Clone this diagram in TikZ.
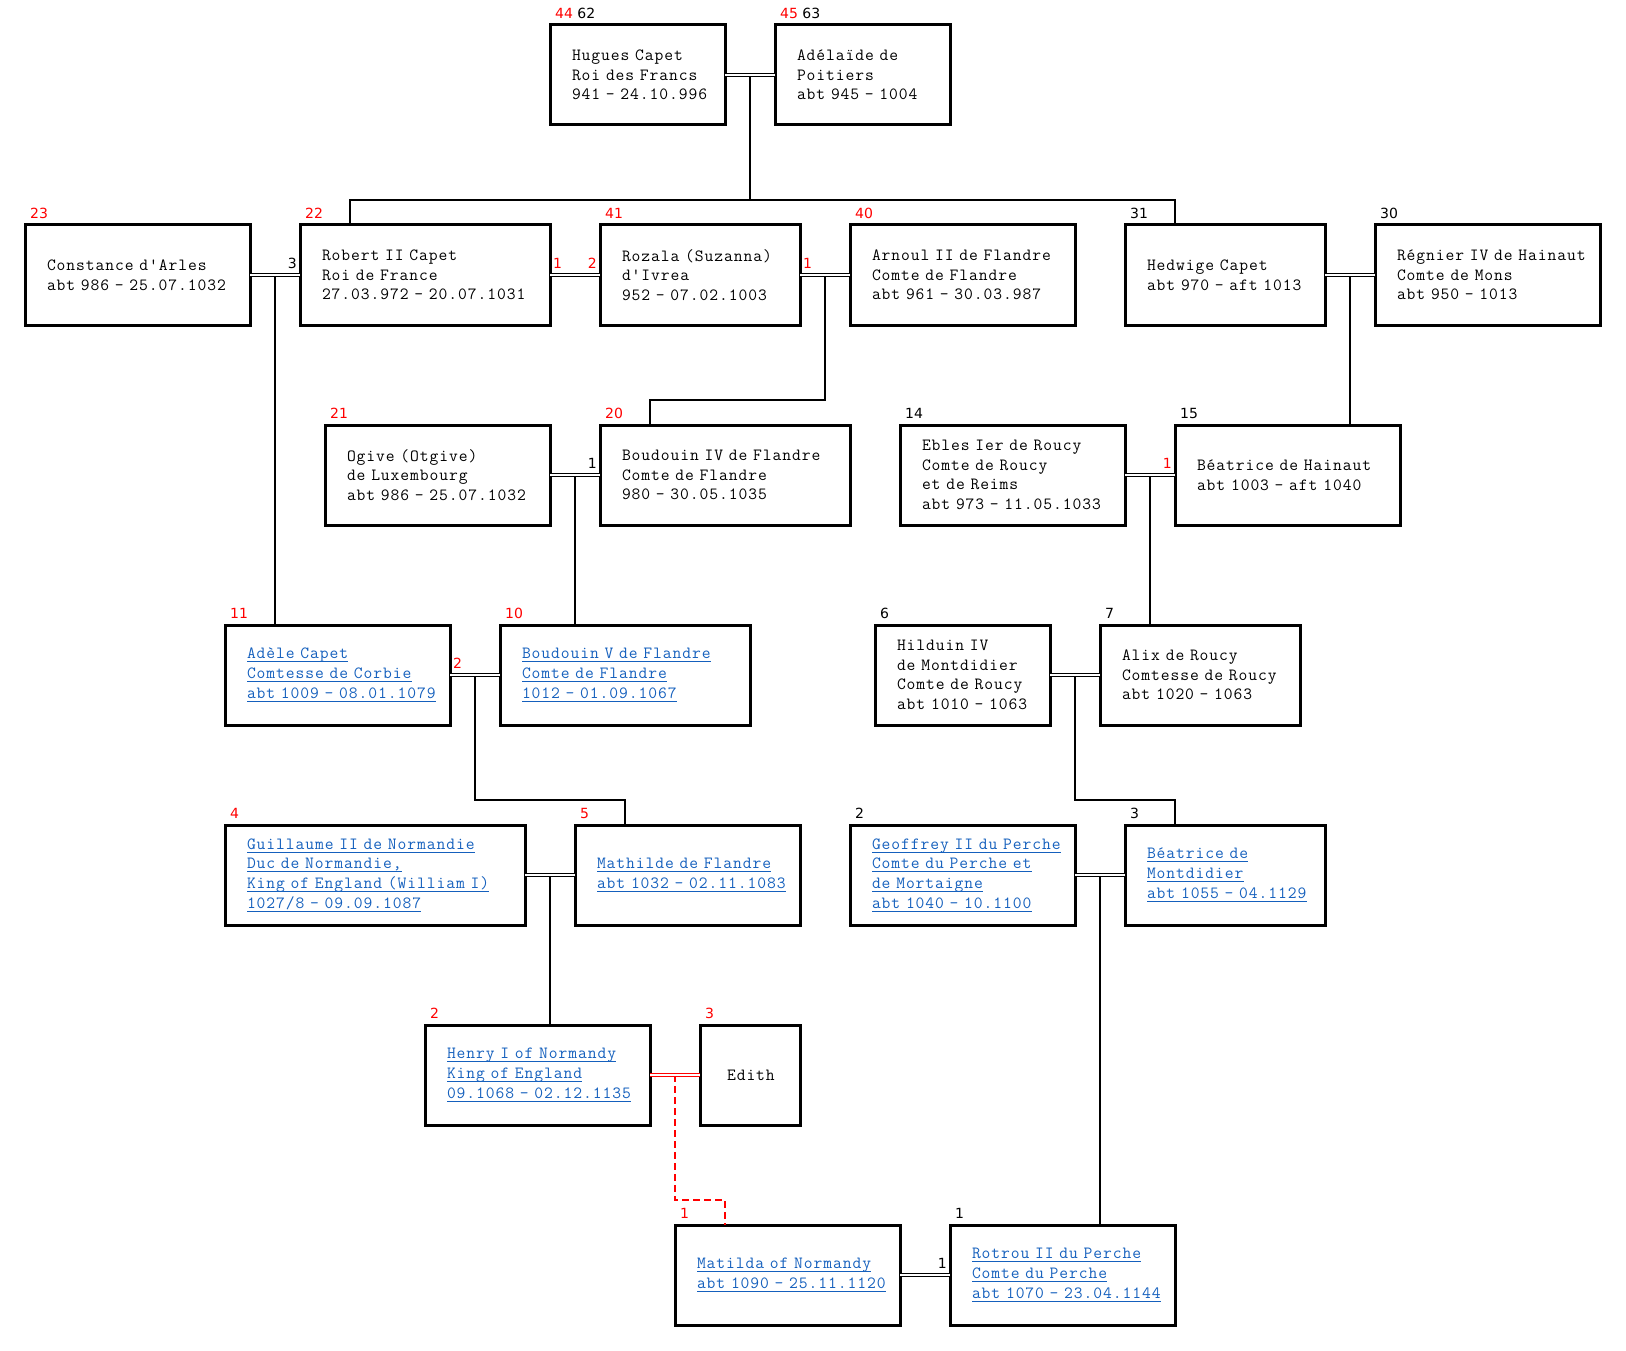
\documentclass[tikz,border=0pt]{standalone}
\usepackage{fontspec}
\usepackage{xcolor}
\usepackage{tikz}
\usetikzlibrary{positioning,calc}
\newfontfamily\tagfont{DejaVu Sans}
\newfontfamily\boxfont[LetterSpace=5.5]{Latin Modern Mono}
\definecolor{linkblue}{HTML}{1560BD}
\newcommand\lnk[1]{\leavevmode\setbox0=\hbox{#1}\rlap{\rule[-3.5pt]{\wd0}{1pt}}\box0}
\tikzset{
  person/.style={draw, line width=3pt, outer sep=0pt, minimum height=100pt, inner xsep=0pt, inner ysep=2pt, text width=#1pt, align=left, font=\boxfont\fontsize{17.1pt}{19.7pt}\selectfont, execute at begin node={\leftskip=22pt}},
  link/.style={text=linkblue},
  num/.style={font=\tagfont\fontsize{14pt}{16pt}\selectfont, inner sep=0pt},
  wed/.style={double, double distance=1.6pt, line width=1pt},
  kin/.style={line width=2pt},
  lost/.style={line width=2pt, red, dash pattern=on 7pt off 4pt}
}

\begin{document}
\begin{tikzpicture}[x=1pt, y=1pt, node distance=100pt and 50pt]
  \useasboundingbox (0,0) rectangle (1626,-1351);

  \node[person=175, anchor=north west] (hugues) at (550,-25) {Hugues Capet\\Roi des Francs\\941 - 24.10.996};
  \node[person=175, right=of hugues] (adelaide) {Adélaïde de\\Poitiers\\abt 945 - 1004};

  \node[person=225, anchor=north west] (constance) at (25,-225) {Constance d'Arles\\abt 986 - 25.07.1032};
  \node[person=250, right=of constance] (robert) {Robert II Capet\\Roi de France\\27.03.972 - 20.07.1031};
  \node[person=200, right=of robert] (rozala) {Rozala (Suzanna)\\d'Ivrea\\952 - 07.02.1003};
  \node[person=225, right=of rozala] (arnoul) {Arnoul II de Flandre\\Comte de Flandre\\abt 961 - 30.03.987};
  \node[person=200, right=of arnoul] (hedwige) {Hedwige Capet\\abt 970 - aft 1013};
  \node[person=225, right=of hedwige] (regnier) {Régnier IV de Hainaut\\Comte de Mons\\abt 950 - 1013};

  \node[person=225, anchor=north west] (ogive) at (325,-425) {Ogive (Otgive)\\de Luxembourg\\abt 986 - 25.07.1032};
  \node[person=250, right=of ogive] (boudfour) {Boudouin IV de Flandre\\Comte de Flandre\\980 - 30.05.1035};
  \node[person=225, right=of boudfour] (ebles) {Ebles Ier de Roucy\\Comte de Roucy\\et de Reims\\abt 973 - 11.05.1033};
  \node[person=225, right=of ebles] (beahain) {Béatrice de Hainaut\\abt 1003 - aft 1040};

  \node[person=225, link, anchor=north west] (adele) at (225,-625) {\lnk{Adèle Capet}\\\lnk{Comtesse de Corbie}\\\lnk{abt 1009 - 08.01.1079}};
  \node[person=250, link, right=of adele] (boudfive) {\lnk{Boudouin V de Flandre}\\\lnk{Comte de Flandre}\\\lnk{1012 - 01.09.1067}};
  \node[person=175, right=125pt of boudfive] (hilduin) {Hilduin IV\\de Montdidier\\Comte de Roucy\\abt 1010 - 1063};
  \node[person=200, right=of hilduin] (alix) {Alix de Roucy\\Comtesse de Roucy\\abt 1020 - 1063};

  \node[person=300, link, anchor=north west] (guillaume) at (225,-825) {\lnk{Guillaume II de Normandie}\\\lnk{Duc de Normandie,}\\\lnk{King of England (William I)}\\\lnk{1027/8 - 09.09.1087}};
  \node[person=225, link, right=of guillaume] (mathilde) {\lnk{Mathilde de Flandre}\\\lnk{abt 1032 - 02.11.1083}};
  \node[person=225, link, right=of mathilde] (geoffrey) {\lnk{Geoffrey II du Perche}\\\lnk{Comte du Perche et}\\\lnk{de Mortaigne}\\\lnk{abt 1040 - 10.1100}};
  \node[person=200, link, right=of geoffrey] (beamont) {\lnk{Béatrice de}\\\lnk{Montdidier}\\\lnk{abt 1055 - 04.1129}};

  \node[person=225, link, anchor=north west] (henry) at (425,-1025) {\lnk{Henry I of Normandy}\\\lnk{King of England}\\\lnk{09.1068 - 02.12.1135}};
  \node[person=100, right=of henry, execute at begin node={\leftskip=27pt}] (edith) {Edith};

  \node[person=225, link, anchor=north west] (matilda) at (675,-1225) {\lnk{Matilda of Normandy}\\\lnk{abt 1090 - 25.11.1120}};
  \node[person=225, link, right=of matilda] (rotrou) {\lnk{Rotrou II du Perche}\\\lnk{Comte du Perche}\\\lnk{abt 1070 - 23.04.1144}};

  \node[num, red, anchor=base west] (thugues) at ([shift={(5pt,6.5pt)}]hugues.north west) {44 {\color{black}62}};
  \node[num, red, anchor=base west] (tadelaide) at ([shift={(5pt,6.5pt)}]adelaide.north west) {45 {\color{black}63}};
  \node[num, red, anchor=base west] (tconstance) at ([shift={(5pt,6.5pt)}]constance.north west) {23};
  \node[num, red, anchor=base west] (trobert) at ([shift={(5pt,6.5pt)}]robert.north west) {22};
  \node[num, red, anchor=base west] (trozala) at ([shift={(5pt,6.5pt)}]rozala.north west) {41};
  \node[num, red, anchor=base west] (tarnoul) at ([shift={(5pt,6.5pt)}]arnoul.north west) {40};
  \node[num, anchor=base west] (thedwige) at ([shift={(5pt,6.5pt)}]hedwige.north west) {31};
  \node[num, anchor=base west] (tregnier) at ([shift={(5pt,6.5pt)}]regnier.north west) {30};
  \node[num, red, anchor=base west] (togive) at ([shift={(5pt,6.5pt)}]ogive.north west) {21};
  \node[num, red, anchor=base west] (tboudfour) at ([shift={(5pt,6.5pt)}]boudfour.north west) {20};
  \node[num, anchor=base west] (tebles) at ([shift={(5pt,6.5pt)}]ebles.north west) {14};
  \node[num, anchor=base west] (tbeahain) at ([shift={(5pt,6.5pt)}]beahain.north west) {15};
  \node[num, red, anchor=base west] (tadele) at ([shift={(5pt,6.5pt)}]adele.north west) {11};
  \node[num, red, anchor=base west] (tboudfive) at ([shift={(5pt,6.5pt)}]boudfive.north west) {10};
  \node[num, anchor=base west] (thilduin) at ([shift={(5pt,6.5pt)}]hilduin.north west) {6};
  \node[num, anchor=base west] (talix) at ([shift={(5pt,6.5pt)}]alix.north west) {7};
  \node[num, red, anchor=base west] (tguillaume) at ([shift={(5pt,6.5pt)}]guillaume.north west) {4};
  \node[num, red, anchor=base west] (tmathilde) at ([shift={(5pt,6.5pt)}]mathilde.north west) {5};
  \node[num, anchor=base west] (tgeoffrey) at ([shift={(5pt,6.5pt)}]geoffrey.north west) {2};
  \node[num, anchor=base west] (tbeamont) at ([shift={(5pt,6.5pt)}]beamont.north west) {3};
  \node[num, red, anchor=base west] (thenry) at ([shift={(5pt,6.5pt)}]henry.north west) {2};
  \node[num, red, anchor=base west] (tedith) at ([shift={(5pt,6.5pt)}]edith.north west) {3};
  \node[num, red, anchor=base west] (tmatilda) at ([shift={(5pt,6.5pt)}]matilda.north west) {1};
  \node[num, anchor=base west] (trotrou) at ([shift={(5pt,6.5pt)}]rotrou.north west) {1};

  \node[num, anchor=base east] (wrobert) at ([shift={(-3pt,6.5pt)}]robert.west) {3};
  \node[num, red, anchor=base west] (erobert) at ([shift={(3pt,6.5pt)}]robert.east) {1};
  \node[num, red, anchor=base east] (wrozala) at ([shift={(-3pt,6.5pt)}]rozala.west) {2};
  \node[num, red, anchor=base west] (erozala) at ([shift={(3pt,6.5pt)}]rozala.east) {1};
  \node[num, anchor=base east] (wboudfour) at ([shift={(-3pt,6.5pt)}]boudfour.west) {1};
  \node[num, red, anchor=base east] (wbeahain) at ([shift={(-3pt,6.5pt)}]beahain.west) {1};
  \node[num, red, anchor=base west] (eadele) at ([shift={(3pt,6.5pt)}]adele.east) {2};
  \node[num, anchor=base east] (wrotrou) at ([shift={(-3pt,6.5pt)}]rotrou.west) {1};

  \coordinate (m1) at ($(hugues.east)!.5!(adelaide.west)$);
  \coordinate (m2) at ($(constance.east)!.5!(robert.west)$);
  \coordinate (m4) at ($(rozala.east)!.5!(arnoul.west)$);
  \coordinate (m5) at ($(hedwige.east)!.5!(regnier.west)$);
  \coordinate (m6) at ($(ogive.east)!.5!(boudfour.west)$);
  \coordinate (m7) at ($(ebles.east)!.5!(beahain.west)$);
  \coordinate (m8) at ($(adele.east)!.5!(boudfive.west)$);
  \coordinate (m9) at ($(hilduin.east)!.5!(alix.west)$);
  \coordinate (m10) at ($(guillaume.east)!.5!(mathilde.west)$);
  \coordinate (m11) at ($(geoffrey.east)!.5!(beamont.west)$);
  \coordinate (m12) at ($(henry.east)!.5!(edith.west)$);

  \draw[kin] (m1) |- ([shift={(50pt,25pt)}]robert.north west) -- ([xshift=50pt]robert.north west);
  \draw[kin] (m1) |- ([shift={(50pt,25pt)}]hedwige.north west) -- ([xshift=50pt]hedwige.north west);
  \draw[kin] (m2) -- (m2 |- adele.north);
  \draw[kin] (m4) |- ([shift={(50pt,25pt)}]boudfour.north west) -- ([xshift=50pt]boudfour.north west);
  \draw[kin] (m5) -- (m5 |- beahain.north);
  \draw[kin] (m6) -- (m6 |- boudfive.north);
  \draw[kin] (m7) -- (m7 |- alix.north);
  \draw[kin] (m8) |- ([shift={(50pt,25pt)}]mathilde.north west) -- ([xshift=50pt]mathilde.north west);
  \draw[kin] (m9) |- ([shift={(50pt,25pt)}]beamont.north west) -- ([xshift=50pt]beamont.north west);
  \draw[kin] (m10) -- (m10 |- henry.north);
  \draw[kin] (m11) -- (m11 |- rotrou.north);
  \draw[lost] (m12) |- ([shift={(50pt,25pt)}]matilda.north west) -- ([xshift=50pt]matilda.north west);

  \draw[wed] (hugues) -- (adelaide);
  \draw[wed] (constance) -- (robert);
  \draw[wed] (robert) -- (rozala);
  \draw[wed] (rozala) -- (arnoul);
  \draw[wed] (hedwige) -- (regnier);
  \draw[wed] (ogive) -- (boudfour);
  \draw[wed] (ebles) -- (beahain);
  \draw[wed] (adele) -- (boudfive);
  \draw[wed] (hilduin) -- (alix);
  \draw[wed] (guillaume) -- (mathilde);
  \draw[wed] (geoffrey) -- (beamont);
  \draw[wed, red] (henry) -- (edith);
  \draw[wed] (matilda) -- (rotrou);
\end{tikzpicture}
\end{document}
